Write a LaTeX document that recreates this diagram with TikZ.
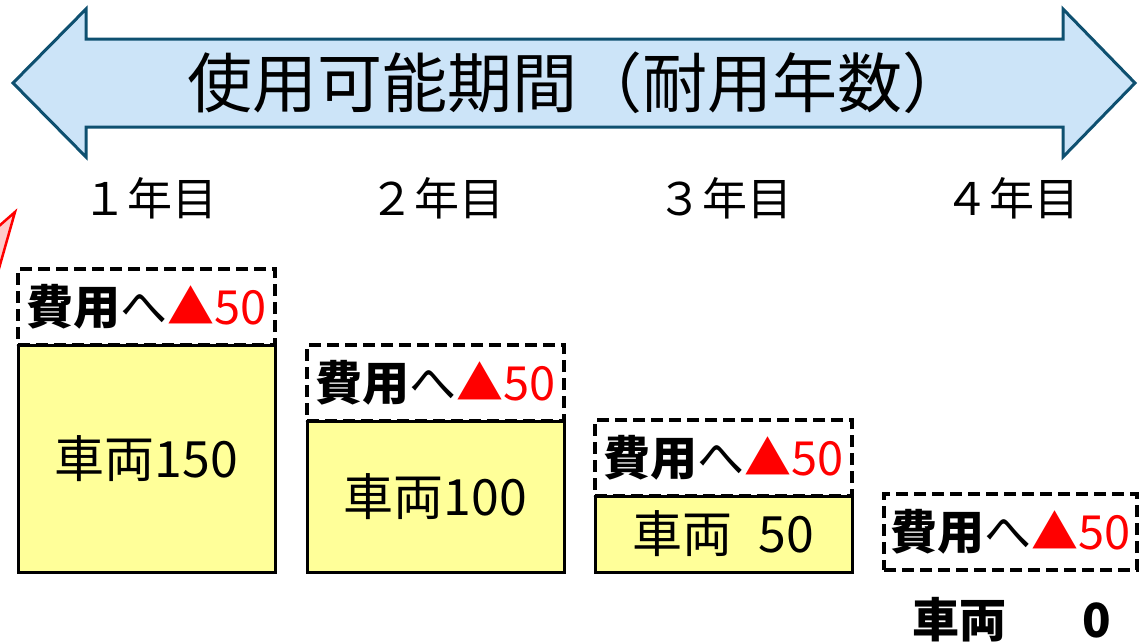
\documentclass[tikz,border=0pt]{standalone}
\usepackage{fontspec}
\setmainfont{Noto Sans CJK JP}
\definecolor{arrowfill}{HTML}{CCE4F8}
\definecolor{arrowline}{HTML}{0E5070}
\definecolor{boxyellow}{HTML}{FFFF99}
\definecolor{calloutfill}{HTML}{FFCCCC}
\tikzset{
  yearlbl/.style={font=\fontsize{45}{45}\selectfont, inner sep=0pt},
  vbox/.style={draw=black, line width=3pt, fill=boxyellow, minimum width=257, inner sep=0pt, font=\fontsize{50}{50}\selectfont},
  costbox/.style={draw=black, line width=3.2pt, dash pattern=on 12pt off 6pt, minimum height=76, inner sep=0pt, font=\fontsize{47}{47}\selectfont},
}
\newcommand{\costtext}{{\bfseries 費用}へ{\color{red}▲50}}
\begin{document}
\begin{tikzpicture}[x=1pt,y=-1pt]
\useasboundingbox (0,0) rectangle (1147,643);
% callout fragment
\begin{scope}
\clip (0,0) rectangle (1147,643);
\draw[red, line width=2.5pt, fill=calloutfill, line join=miter] (-10,234) -- (15,212) -- (-2,272) -- cycle;
\end{scope}
% double arrow
\draw[arrowline, line width=3pt, fill=arrowfill, line join=miter]
  (13,83) -- (86,9) -- (86,39) -- (1063,39) -- (1063,9) -- (1135,83)
  -- (1063,157) -- (1063,127) -- (86,127) -- (86,157) -- cycle;
\node[font=\fontsize{65}{65}\selectfont, inner sep=0pt] (title) at (577,83) {使用可能期間（耐用年数）};
% year labels
\node[yearlbl] (y1) at (150,198) {１年目};
\node[yearlbl] (y2) at (437,198) {２年目};
\node[yearlbl] (y3) at (725,198) {３年目};
\node[yearlbl] (y4) at (1012,198) {４年目};
% column 1
\node[costbox, minimum width=257] (c1) at (146.5,307) {\costtext};
\node[vbox, minimum height=227] (b1) at (146.5,458.5) {車両150};
% column 2
\node[costbox, minimum width=257] (c2) at (435.5,383) {\costtext};
\node[vbox, minimum height=151] (b2) at (435.5,496.5) {車両100};
% column 3
\node[costbox, minimum width=257] (c3) at (723.5,458) {\costtext};
\node[vbox, minimum height=76] (b3) at (723.5,534) {車両\hspace{26pt}50};
% column 4
\node[costbox, minimum width=253] (c4) at (1010.5,532) {\costtext};
\node[font=\fontsize{47}{47}\selectfont\bfseries, inner sep=0pt] (v4) at (1012,620) {車両\hspace{76pt}0};
\end{tikzpicture}
\end{document}
